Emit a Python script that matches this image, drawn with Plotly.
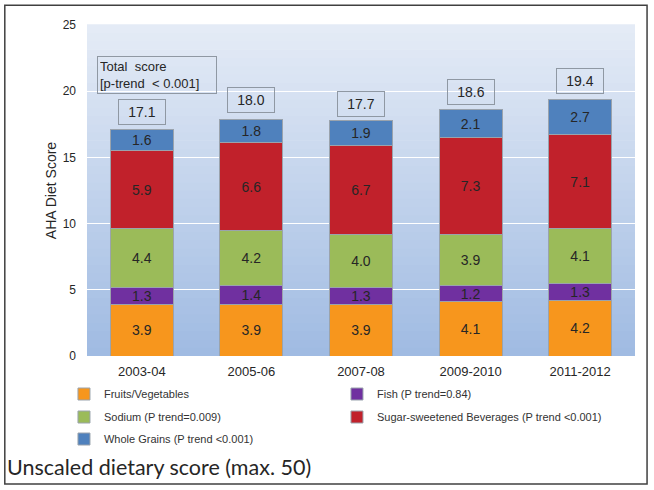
import plotly.graph_objects as go

# survey cycles and component scores (AHA diet score, unscaled)
cycles = ["2003-04", "2005-06", "2007-08", "2009-2010", "2011-2012"]
fruits_veg = [3.9, 3.9, 3.9, 4.1, 4.2]
fish = [1.3, 1.4, 1.3, 1.2, 1.3]
sodium = [4.4, 4.2, 4.0, 3.9, 4.1]
ssb = [5.9, 6.6, 6.7, 7.3, 7.1]
whole_grains = [1.6, 1.8, 1.9, 2.1, 2.7]
totals = [17.1, 18.0, 17.7, 18.6, 19.4]

# name, values, colour, legend row
series = [
    ("Fruits/Vegetables", fruits_veg, "#f7961d", "legend"),
    ("Fish (P trend=0.84)", fish, "#7030a0", "legend"),
    ("Sodium (P trend=0.009)", sodium, "#9bbb59", "legend2"),
    ("Sugar-sweetened Beverages (P trend <0.001)", ssb, "#c1212b", "legend2"),
    ("Whole Grains (P trend <0.001)", whole_grains, "#4f81bd", "legend3"),
]

FONT = "Liberation Sans, Arial, sans-serif"
TEXT_COLOR = "#262626"

fig = go.Figure()
for name, vals, color, leg in series:
    fig.add_trace(go.Bar(
        x=cycles, y=vals, name=name, legend=leg,
        marker=dict(color=color, line=dict(color="#9aa3ad", width=1)),
        texttemplate="%{y:.1f}", textposition="inside",
        insidetextanchor="middle", textangle=0,
        textfont=dict(size=14, color=TEXT_COLOR, family=FONT),
    ))

# plot background: vertical gradient made of thin bands
top_rgb = (228, 235, 246)
bot_rgb = (160, 187, 226)
n_bands = 40
shapes = []
for i in range(n_bands):
    t = i / (n_bands - 1)
    c = tuple(round(b + (a - b) * t) for a, b in zip(top_rgb, bot_rgb))
    shapes.append(dict(
        type="rect", xref="paper", yref="paper", layer="below",
        x0=0, x1=1, y0=i / n_bands, y1=(i + 1) / n_bands + 0.002,
        fillcolor="rgb(%d,%d,%d)" % c, line=dict(width=0),
    ))
# outer frame
shapes.append(dict(
    type="rect", xref="paper", yref="paper",
    x0=-0.150, x1=1.022, y0=-0.387, y1=1.060,
    line=dict(color="#404040", width=1.5),
))

annotations = []
for cyc, tot in zip(cycles, totals):
    annotations.append(dict(
        x=cyc, y=tot, xref="x", yref="y", text="%.1f" % tot,
        showarrow=False, yanchor="bottom", yshift=5,
        width=42, height=20, borderpad=2,
        bordercolor="#8f98a3", borderwidth=1,
        font=dict(size=14, color=TEXT_COLOR, family=FONT),
    ))
annotations.append(dict(
    x=0.018, y=0.905, xref="paper", yref="paper", xanchor="left", yanchor="top",
    text="Total  score<br>[p-trend  < 0.001]", align="left",
    showarrow=False, width=114, height=32, borderpad=2,
    bordercolor="#8f98a3", borderwidth=1,
    font=dict(size=13, color=TEXT_COLOR, family=FONT),
))
annotations.append(dict(
    x=-0.1496, y=-0.335, xref="paper", yref="paper", xanchor="left", yanchor="middle",
    text="Unscaled dietary score (max. 50)", showarrow=False,
    font=dict(size=21.5, color="#262626", family="Lato, sans-serif"),
))

legend_style = dict(
    orientation="h", traceorder="normal", x=-0.042, xanchor="left", yanchor="top",
    entrywidth=228, entrywidthmode="pixels",
    font=dict(size=11, color="#333333", family=FONT),
    bgcolor="rgba(0,0,0,0)",
)

fig.update_layout(
    width=654, height=490,
    margin=dict(l=87, r=19, t=25, b=134, autoexpand=False),
    barmode="stack", bargap=0.425,
    plot_bgcolor="rgba(0,0,0,0)", paper_bgcolor="white",
    font=dict(family=FONT, color=TEXT_COLOR),
    shapes=shapes, annotations=annotations,
    uniformtext=dict(minsize=14, mode="show"),
    showlegend=True,
    legend=dict(legend_style, y=-0.071),
    legend2=dict(legend_style, y=-0.1405),
    legend3=dict(legend_style, y=-0.207),
)
fig.update_xaxes(
    type="category", showgrid=False, showline=False, ticks="",
    tickfont=dict(size=13, color=TEXT_COLOR), ticklabelstandoff=6,
)
fig.update_yaxes(
    range=[0, 25], dtick=5, showgrid=True, gridcolor="white", gridwidth=1,
    zeroline=False, showline=False, ticks="",
    tickfont=dict(size=12, color=TEXT_COLOR), ticklabelstandoff=10,
    title=dict(text="AHA Diet Score", font=dict(size=14, color=TEXT_COLOR), standoff=2),
)

fig.write_html("out.html", config={"displayModeBar": False},
               post_script="document.body.style.margin='0';")
